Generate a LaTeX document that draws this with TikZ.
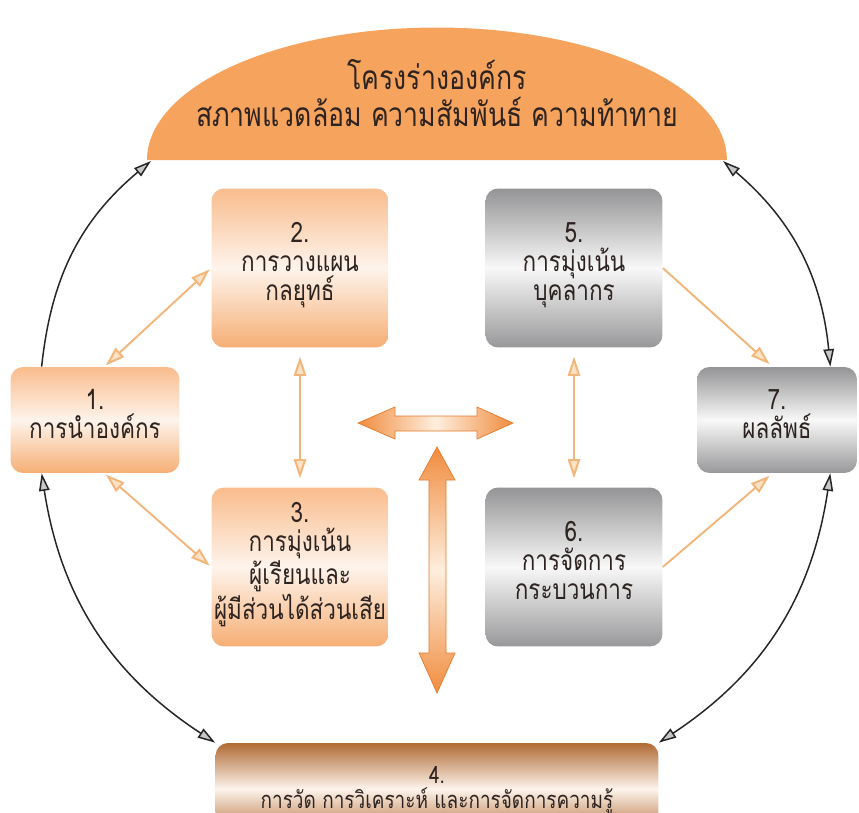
\documentclass[tikz,border=0pt]{standalone}
\usepackage{fontspec}
\newfontfamily\thaifont[Script=Thai, FakeStretch=0.8]{Loma}
\usetikzlibrary{arrows.meta,calc}

\definecolor{envorange}{RGB}{246,163,94}
\definecolor{ortop}{RGB}{249,188,140}
\definecolor{ormid}{RGB}{254,244,236}
\definecolor{orbot}{RGB}{246,174,116}
\definecolor{grtop}{RGB}{148,148,150}
\definecolor{grmid}{RGB}{248,248,248}
\definecolor{grbot}{RGB}{152,152,154}
\definecolor{brtop}{RGB}{176,106,52}
\definecolor{brmid}{RGB}{253,244,236}
\definecolor{linkor}{RGB}{242,182,122}
\definecolor{tipor}{RGB}{252,226,196}
\definecolor{blockor}{RGB}{240,140,62}
\definecolor{blockedge}{RGB}{228,122,44}
\definecolor{blockmid}{RGB}{254,238,222}
\definecolor{txt}{RGB}{45,35,32}

\begin{document}
\begin{tikzpicture}[
    x=0.02cm, y=-0.02cm,
    font=\thaifont\fontsize{16}{16.5}\selectfont, text=txt,
    box/.style={rounded corners=0.25cm, align=center, inner xsep=0pt, inner ysep=2pt, text depth=7pt},
    orbox/.style={box, top color=ortop, bottom color=orbot, middle color=ormid},
    grbox/.style={box, top color=grtop, bottom color=grbot, middle color=grmid},
    brbox/.style={box, top color=brtop, bottom color=brtop, middle color=brmid},
    link/.style={draw=linkor, line width=1.1pt,
                 >={Triangle[length=11pt, width=7pt, fill=tipor]}, <->},
    ring/.style={draw=black!85, line width=0.85pt,
                 >={Triangle[length=10pt, width=6pt, fill=black!22]}, <->},
    block/.style={draw=blockedge, line width=0.4pt}
]
\useasboundingbox (0,0) rectangle (859,812);

% Organisational profile (half ellipse)
\fill[envorange] (147,160) arc[start angle=180, end angle=0, x radius=5.8cm, y radius=2.65cm] -- cycle;
\node[align=center, font=\thaifont\fontsize{19}{21}\selectfont] (env) at (437,93)
    {โครงร่างองค์กร\\สภาพแวดล้อม ความสัมพันธ์ ความท้าทาย};
\coordinate (envL) at (151,161);
\coordinate (envR) at (723,161);

% Categories
\node[orbox, minimum width=3.38cm, minimum height=2.12cm] (b1) at (95,420) {1.\\การนำองค์กร};
\node[orbox, minimum width=3.54cm, minimum height=3.18cm] (b2) at (300,268) {2.\\การวางแผน\\กลยุทธ์};
\node[orbox, minimum width=3.54cm, minimum height=3.18cm] (b3) at (300,567) {3.\\การมุ่งเน้น\\ผู้เรียนและ\\ผู้มีส่วนได้ส่วนเสีย};
\node[grbox, minimum width=3.54cm, minimum height=3.18cm] (b5) at (574,268) {5.\\การมุ่งเน้น\\บุคลากร};
\node[grbox, minimum width=3.54cm, minimum height=3.18cm] (b6) at (574,567) {6.\\การจัดการ\\กระบวนการ};
\node[grbox, minimum width=3.2cm, minimum height=2.12cm] (b7) at (777,420) {7.\\ผลลัพธ์};
\node[brbox, minimum width=8.86cm, minimum height=1.84cm, text depth=2pt,
      font={\thaifont\fontsize{13.5}{15.5}\selectfont}] (b4) at (437,789)
    {4.\\[-1pt]การวัด การวิเคราะห์ และการจัดการความรู้};

% Thin links
\draw[link, shorten <=1pt, shorten >=1pt] (b1.80) -- (b2.west);
\draw[link, shorten <=1pt, shorten >=1pt] (b1.-80) -- (b3.west);
\draw[link, shorten <=5pt, shorten >=5pt] (b2.south) -- (b3.north);
\draw[link, shorten <=5pt, shorten >=5pt] (b5.south) -- (b6.north);
\draw[link, ->, shorten >=2pt] (b5.east) -- (b7.95);
\draw[link, ->, shorten >=2pt] (b6.east) -- (b7.-95);

% Outer ring
\draw[ring, ->] (b1.135) to[bend left=22] (envL);
\draw[ring] (envR) to[bend left=22] (b7.45);
\draw[ring] (b1.-135) to[bend right=24] (b4.north west);
\draw[ring] (b7.-45) to[bend left=24] (b4.north east);

% Block arrows in the centre
\shade[block, left color=blockor, right color=blockor, middle color=blockmid]
    (358,423) -- (395,407) -- (395,416) -- (477,416) -- (477,407) -- (513,423)
    -- (477,439) -- (477,431) -- (395,431) -- (395,439) -- cycle;
\shade[block, top color=blockor, bottom color=blockor, middle color=blockmid]
    (437,447) -- (455,480) -- (446,480) -- (446,653) -- (455,653) -- (437,693)
    -- (419,653) -- (429,653) -- (429,480) -- (419,480) -- cycle;

\end{tikzpicture}
\end{document}
